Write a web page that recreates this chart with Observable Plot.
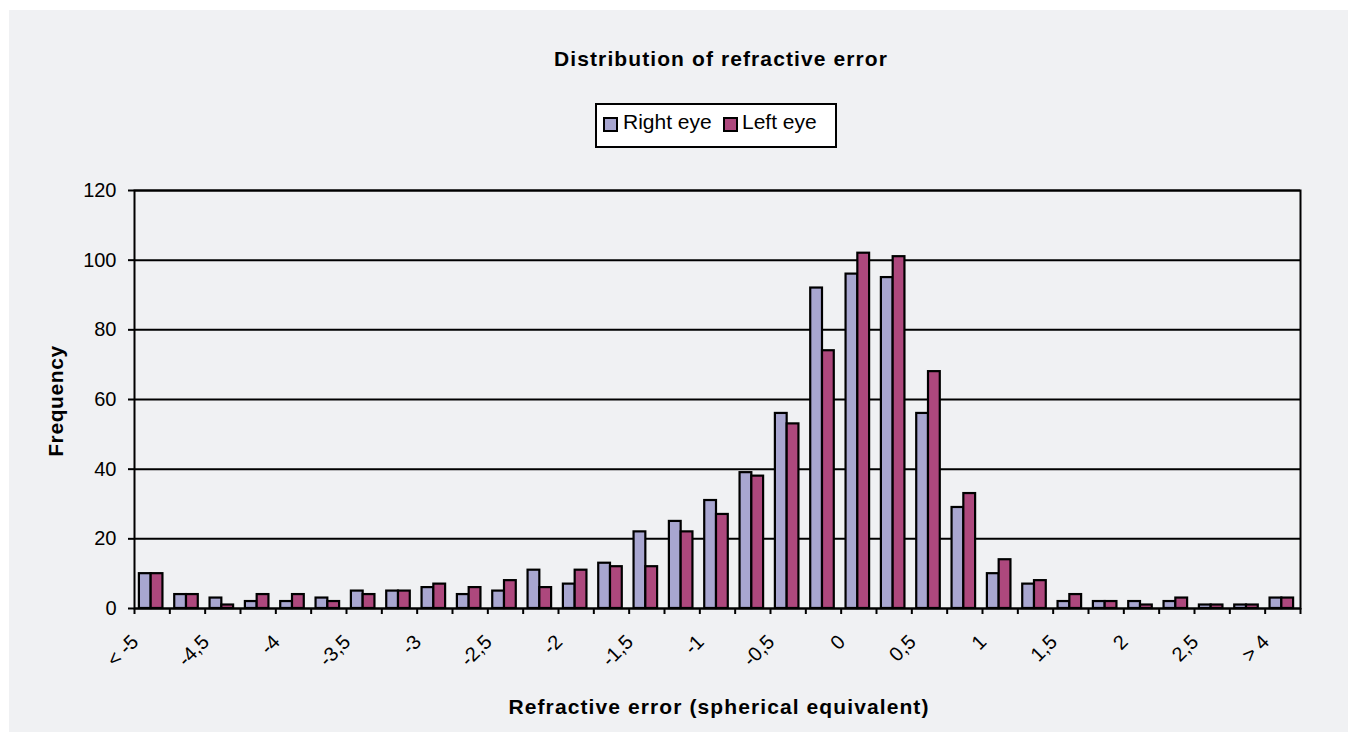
<!DOCTYPE html>
<html>
<head>
<meta charset="utf-8">
<script src="https://cdn.jsdelivr.net/npm/d3@7"></script>
<script src="https://cdn.jsdelivr.net/npm/@observablehq/plot@0.6"></script>
<style>
  html, body { margin: 0; padding: 0; background: #ffffff; }
  #frame {
    position: absolute; left: 9px; top: 10px; width: 1339px; height: 722px;
    background: #f0f1f3; font-family: "Liberation Sans", Arial, sans-serif; color: #000;
    overflow: hidden;
  }
  .bold { position: absolute; white-space: nowrap; font-weight: bold; font-size: 21px; line-height: 21px; letter-spacing: 1.1px; }
  #title { left: 712px; top: 38px; transform: translateX(-50%); }
  #xlabel { left: 710px; top: 686px; transform: translateX(-50%); }
  #ylabel { left: 46px; top: 391px; transform: translate(-50%, -50%) rotate(-90deg); letter-spacing: 0.6px; }
  #legend {
    position: absolute; left: 586px; top: 93px; width: 242px; height: 45px;
    box-sizing: border-box; border: 2px solid #000; background: #fff;
  }
  .sw { position: absolute; top: 12px; width: 15px; height: 15px; box-sizing: border-box; border: 2px solid #000; }
  .lt { position: absolute; top: 7px; font-size: 21px; line-height: 20px; white-space: nowrap; }
  #chart { position: absolute; left: 0; top: 170px; }
</style>
</head>
<body>
<div id="frame">
  <div id="title" class="bold">Distribution of refractive error</div>
  <div id="legend"></div>
  <div id="chart"></div>
  <div id="ylabel" class="bold">Frequency</div>
  <div id="xlabel" class="bold">Refractive error (spherical equivalent)</div>
</div>
<script>
const categories = ["< -5", "-4,75", "-4,5", "-4,25", "-4", "-3,75", "-3,5", "-3,25", "-3", "-2,75",
  "-2,5", "-2,25", "-2", "-1,75", "-1,5", "-1,25", "-1", "-0,75", "-0,5", "-0,25",
  "0", "0,25", "0,5", "0,75", "1", "1,25", "1,5", "1,75", "2", "2,25", "2,5", "2,75", "> 4"];
const rightEye = [10, 4, 3, 2, 2, 3, 5, 5, 6, 4, 5, 11, 7, 13, 22, 25, 31, 39, 56, 92, 96, 95, 56, 29, 10, 7, 2, 2, 2, 2, 1, 1, 3];
const leftEye  = [10, 4, 1, 4, 4, 2, 4, 5, 7, 6, 8, 6, 11, 12, 12, 22, 27, 38, 53, 74, 102, 101, 68, 33, 14, 8, 4, 2, 1, 3, 1, 1, 3];
const yTicks = [0, 20, 40, 60, 80, 100, 120];
const seriesNames = ["Right eye", "Left eye"];
const seriesColors = ["#a8a6d0", "#ad487d"];

const labelled = categories.filter((d, i) => i % 2 === 0);
const data = categories.map((c, i) => ({cat: c, right: rightEye[i], left: leftEye[i]}));

// legend
const legend = document.getElementById("legend");
const swX = [6, 126], txX = [26, 145];
seriesNames.forEach((name, i) => {
  const s = document.createElement("div");
  s.className = "sw"; s.style.left = swX[i] + "px"; s.style.background = seriesColors[i];
  legend.appendChild(s);
  const t = document.createElement("div");
  t.className = "lt"; t.style.left = txX[i] + "px"; t.textContent = name;
  legend.appendChild(t);
});

const width = 1339, height = 552, mL = 125, mR = 48, mT = 10, mB = 124;
const W = (width - mL - mR) / categories.length;

const chart = Plot.plot({
  width, height,
  marginLeft: mL, marginRight: mR, marginTop: mT, marginBottom: mB,
  style: {background: "transparent", fontFamily: "'Liberation Sans', Arial, sans-serif", fontSize: "20px", color: "#000", overflow: "visible"},
  x: {type: "band", domain: categories, padding: 0, round: false},
  y: {domain: [0, 120]},
  marks: [
    Plot.gridY(yTicks, {stroke: "#000", strokeOpacity: 1, strokeWidth: 2}),
    Plot.barY(data, {x: "cat", y: "right", fill: seriesColors[0], stroke: "#000", strokeWidth: 2.2, insetLeft: W / 6, insetRight: W / 2, dx: -1}),
    Plot.barY(data, {x: "cat", y: "left", fill: seriesColors[1], stroke: "#000", strokeWidth: 2.2, insetLeft: W / 2, insetRight: W / 6, dx: -1}),
    Plot.frame({stroke: "#000", strokeWidth: 2}),
    Plot.axisY(yTicks, {tickSize: 6, tickPadding: 12, strokeWidth: 2, fontSize: 20, label: null, tickFormat: d => String(d)}),
    Plot.axisX(categories, {tickSize: 6, strokeWidth: 2, tickFormat: () => "", dx: -W / 2, label: null}),
    Plot.axisX([categories[categories.length - 1]], {tickSize: 6, strokeWidth: 2, tickFormat: () => "", dx: W / 2, label: null}),
    Plot.text(labelled, {x: d => d, text: d => d, frameAnchor: "bottom", textAnchor: "end", lineAnchor: "middle", rotate: -45, dx: -17, dy: 30, fontSize: 20, fill: "#000"})
  ]
});
document.getElementById("chart").appendChild(chart);
</script>
</body>
</html>
